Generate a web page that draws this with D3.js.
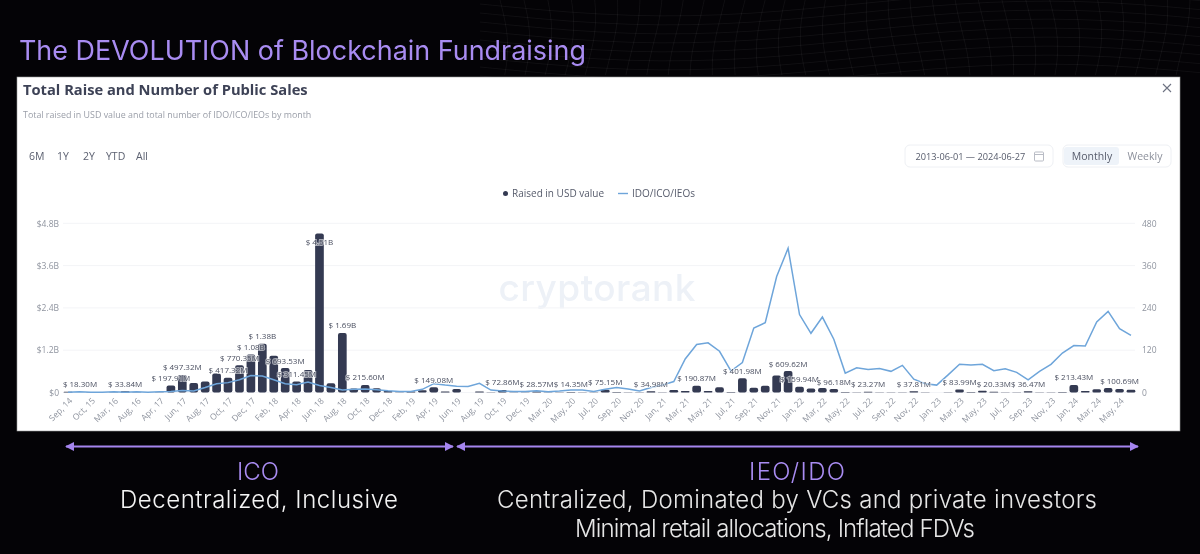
<!DOCTYPE html>
<html>
<head>
<meta charset="utf-8">
<script src="https://cdn.jsdelivr.net/npm/d3@7"></script>
<style>
    body { margin: 0; background: #040306; }
    svg { filter: blur(0.3px); }
    text { font-family: "Open Sans", sans-serif; }
    text.slide { font-family: Inter, sans-serif; }
    .axis path, .axis line { display: none; }
    .axis text { fill: #8f949f; font-size: 8.5px; font-family: "Open Sans", sans-serif; }
</style>
</head>
<body>
<div id="chart"></div>
<script>
// months of the x axis, some of the early ones have no sale so they are skipped
var categories = [
    "Sep, 14", "Jun, 15", "Oct, 15", "Dec, 15", "Mar, 16", "Apr, 16", "Aug, 16", "Oct, 16",
    "Apr, 17", "May, 17", "Jun, 17", "Jul, 17", "Aug, 17", "Sep, 17", "Oct, 17", "Nov, 17", "Dec, 17",
    "Jan, 18", "Feb, 18", "Mar, 18", "Apr, 18", "May, 18", "Jun, 18", "Jul, 18", "Aug, 18", "Sep, 18", "Oct, 18", "Nov, 18", "Dec, 18",
    "Jan, 19", "Feb, 19", "Mar, 19", "Apr, 19", "May, 19", "Jun, 19", "Jul, 19", "Aug, 19", "Sep, 19", "Oct, 19", "Nov, 19", "Dec, 19",
    "Feb, 20", "Mar, 20", "Apr, 20", "May, 20", "Jun, 20", "Jul, 20", "Aug, 20", "Sep, 20", "Oct, 20", "Nov, 20", "Dec, 20",
    "Jan, 21", "Feb, 21", "Mar, 21", "Apr, 21", "May, 21", "Jun, 21", "Jul, 21", "Aug, 21", "Sep, 21", "Oct, 21", "Nov, 21", "Dec, 21",
    "Jan, 22", "Feb, 22", "Mar, 22", "Apr, 22", "May, 22", "Jun, 22", "Jul, 22", "Aug, 22", "Sep, 22", "Oct, 22", "Nov, 22", "Dec, 22",
    "Jan, 23", "Feb, 23", "Mar, 23", "Apr, 23", "May, 23", "Jun, 23", "Jul, 23", "Aug, 23", "Sep, 23", "Oct, 23", "Nov, 23", "Dec, 23",
    "Jan, 24", "Feb, 24", "Mar, 24", "Apr, 24", "May, 24", "Jun, 24"
];

// raised in USD value, millions
var raised = [
    18.30, 3, 5, 3, 4, 33.84, 6, 3,
    8, 197.91, 497.32, 270, 310, 540, 417.32, 770.35, 1080,
    1380, 1040, 693.53, 311.45, 640, 4510, 265, 1690, 110, 215.60, 120, 40,
    8, 30, 65, 149.08, 30, 100, 3, 30, 10, 72.86, 5, 8,
    28.57, 6, 5, 14.35, 5, 10, 75.15, 12, 6, 4, 34.98,
    6, 70, 45, 190.87, 45, 150, 12, 401.98, 135, 190, 480, 609.62,
    159.94, 110, 130, 96.18, 12, 6, 23.27, 5, 4, 6, 37.81, 6,
    3, 4, 83.99, 12, 50, 20.33, 5, 6, 36.47, 6, 5, 12,
    213.43, 45, 90, 130, 100.69, 75
];

// number of IDO/ICO/IEOs
var sales = [
    1, 2, 1, 1, 2, 1, 2, 1,
    2, 3, 6, 4, 14, 25, 28, 36, 48,
    47, 36, 25, 22, 30, 20, 14, 7, 9, 10, 8, 5,
    3, 3, 9, 25, 21, 18, 17, 26, 7, 4, 3, 3,
    5, 2, 4, 7, 7, 3, 9, 14, 10, 4, 14,
    21, 31, 95, 136, 141, 117, 61, 85, 183, 198, 329, 409,
    221, 168, 214, 151, 55, 70, 65, 68, 60, 77, 38, 25,
    21, 50, 80, 78, 80, 62, 67, 57, 36, 60, 80, 112,
    133, 132, 200, 230, 181, 162
];

// months that carry a value label on the bars
var labelled = [
    "Sep, 14", "Apr, 16", "May, 17", "Jun, 17", "Oct, 17", "Nov, 17", "Dec, 17", "Jan, 18", "Mar, 18", "Apr, 18",
    "Jun, 18", "Aug, 18", "Oct, 18", "Apr, 19", "Oct, 19", "Feb, 20", "May, 20", "Aug, 20", "Dec, 20",
    "Apr, 21", "Aug, 21", "Dec, 21", "Jan, 22", "Apr, 22", "Jul, 22", "Nov, 22", "Mar, 23", "Jun, 23", "Sep, 23", "Jan, 24", "May, 24"
];

var usdTicks = [0, 1200, 2400, 3600, 4800];
var usdTickLabels = ["$0", "$1.2B", "$2.4B", "$3.6B", "$4.8B"];
var saleTicks = [0, 120, 240, 360, 480];
var rangeButtons = ["6M", "1Y", "2Y", "YTD", "All"];

var width = 1200, height = 554;
var purple = "#a98cf2";

var svg = d3.select("#chart").append("svg")
    .attr("width", width)
    .attr("height", height)
    .style("display", "block");

var defs = svg.append("defs");
defs.append("marker")
    .attr("id", "head")
    .attr("viewBox", "0 0 10 10")
    .attr("refX", 9).attr("refY", 5)
    .attr("markerWidth", 4.5).attr("markerHeight", 4.5)
    .attr("orient", "auto-start-reverse")
    .append("path")
    .attr("d", "M0,0L10,5L0,10z")
    .attr("fill", "#a585ee");

// faint wavy mesh behind the heading, only decoration
var mesh = svg.append("g")
    .attr("fill", "none")
    .attr("stroke", "#ffffff")
    .attr("stroke-opacity", 0.05);
var meshLine = d3.line().curve(d3.curveBasis);
d3.range(9).forEach(function (j) {
    mesh.append("path").attr("d", meshLine(d3.range(480, 1210, 30).map(function (px) {
        return [px, 4 + j * 9 + 12 * Math.sin((px - 480) / 120)];
    })));
});
d3.range(32).forEach(function (i) {
    mesh.append("path").attr("d", meshLine(d3.range(0, 90, 15).map(function (py) {
        return [500 + i * 22 + 8 * Math.sin(py / 30 + i / 4), py];
    })));
});

// slide heading
svg.append("text")
    .attr("class", "slide")
    .attr("x", 19).attr("y", 60)
    .attr("textLength", 567)
    .attr("font-size", 26.9)
    .attr("fill", purple)
    .text("The DEVOLUTION of Blockchain Fundraising");

// white card
svg.append("rect")
    .attr("x", 17).attr("y", 77)
    .attr("width", 1163).attr("height", 354)
    .attr("fill", "#fff")
    .attr("stroke", "#9a9a9a")
    .attr("stroke-width", 0.6);

svg.append("text")
    .attr("x", 23).attr("y", 95)
    .attr("font-size", 14.7)
    .attr("font-weight", 700)
    .attr("fill", "#3d4256")
    .text("Total Raise and Number of Public Sales");

svg.append("text")
    .attr("x", 23).attr("y", 118)
    .attr("font-size", 8.9)
    .attr("fill", "#9a9ea8")
    .text("Total raised in USD value and total number of IDO/ICO/IEOs by month");

// range buttons
svg.selectAll(".range")
    .data(rangeButtons)
    .enter().append("text")
    .attr("class", "range")
    .attr("x", function (d, i) { return [29, 57, 83, 106, 136][i]; })
    .attr("y", 160)
    .attr("font-size", 10.5)
    .attr("fill", "#5b6070")
    .text(function (d) { return d; });

// date picker
svg.append("rect")
    .attr("x", 905).attr("y", 145).attr("width", 148).attr("height", 22).attr("rx", 5)
    .attr("fill", "#fff").attr("stroke", "#eef0f4");
svg.append("text")
    .attr("x", 915.5).attr("y", 159.5)
    .attr("font-size", 9.2).attr("fill", "#565b6b")
    .text("2013-06-01  —  2024-06-27");
svg.append("rect")
    .attr("x", 1034.5).attr("y", 152).attr("width", 9).attr("height", 9).attr("rx", 1)
    .attr("fill", "none").attr("stroke", "#b9bcc5");
svg.append("line")
    .attr("x1", 1034.5).attr("x2", 1043.5).attr("y1", 154.5).attr("y2", 154.5)
    .attr("stroke", "#b9bcc5");

// monthly / weekly switch
svg.append("rect")
    .attr("x", 1063).attr("y", 145).attr("width", 108).attr("height", 22).attr("rx", 5)
    .attr("fill", "#fff").attr("stroke", "#eef0f4");
svg.append("rect")
    .attr("x", 1064).attr("y", 147).attr("width", 55).attr("height", 18).attr("rx", 3)
    .attr("fill", "#eef3f9");
svg.append("text")
    .attr("x", 1092).attr("y", 160).attr("text-anchor", "middle")
    .attr("font-size", 10.5).attr("fill", "#565b6b").text("Monthly");
svg.append("text")
    .attr("x", 1145).attr("y", 160).attr("text-anchor", "middle")
    .attr("font-size", 10.5).attr("fill", "#8d919c").text("Weekly");

// close cross
svg.append("path")
    .attr("d", "M1163,84L1171,92M1171,84L1163,92")
    .attr("stroke", "#6d7282").attr("stroke-width", 1.1);

// legend
svg.append("circle")
    .attr("cx", 505.5).attr("cy", 193.5).attr("r", 2.5)
    .attr("fill", "#343a52");
svg.append("text")
    .attr("x", 512).attr("y", 197)
    .attr("font-size", 10).attr("fill", "#565b6b")
    .text("Raised in USD value");
svg.append("line")
    .attr("x1", 618).attr("x2", 628).attr("y1", 193.5).attr("y2", 193.5)
    .attr("stroke", "#6ea5da").attr("stroke-width", 1.4);
svg.append("text")
    .attr("x", 632).attr("y", 197)
    .attr("font-size", 10).attr("fill", "#565b6b")
    .text("IDO/ICO/IEOs");

// watermark
svg.append("text")
    .attr("class", "slide")
    .attr("x", 597).attr("y", 301)
    .attr("text-anchor", "middle")
    .attr("font-size", 37)
    .attr("font-weight", 500)
    .attr("textLength", 197)
    .attr("fill", "#edf1f7")
    .text("cryptorank");

// set the ranges
var x = d3.scaleBand()
    .domain(categories)
    .range([62.3, 1136.7])
    .paddingInner(0.24)
    .paddingOuter(0.12);
var yUsd = d3.scaleLinear().domain([0, 4800]).range([392.5, 223.3]);
var ySales = d3.scaleLinear().domain([0, 480]).range([392.5, 223.3]);

// gridlines
svg.selectAll(".grid")
    .data(usdTicks)
    .enter().append("line")
    .attr("class", "grid")
    .attr("x1", 63).attr("x2", 1135)
    .attr("y1", function (d) { return yUsd(d); })
    .attr("y2", function (d) { return yUsd(d); })
    .attr("stroke", "#f3f4f7");

// add the axes
svg.append("g")
    .attr("class", "axis")
    .attr("transform", "translate(61,0)")
    .call(d3.axisLeft(yUsd).tickValues(usdTicks).tickSize(0).tickPadding(2)
        .tickFormat(function (d, i) { return usdTickLabels[i]; }));

svg.append("g")
    .attr("class", "axis")
    .attr("transform", "translate(1140,0)")
    .call(d3.axisRight(ySales).tickValues(saleTicks).tickSize(0).tickPadding(2));

svg.append("g")
    .attr("class", "axis")
    .attr("transform", "translate(0,392.5)")
    .call(d3.axisBottom(x)
        .tickValues(categories.filter(function (d, i) { return i % 2 == 0; }))
        .tickSize(0))
    .selectAll("text")
    .attr("text-anchor", "end")
    .attr("transform", "translate(3,7) rotate(-45)")
    .attr("dy", "0.32em")
    .attr("y", 0);

// append the rectangles for the bar chart
svg.selectAll(".bar")
    .data(categories)
    .enter().append("rect")
    .attr("class", "bar")
    .attr("x", function (d) { return x(d); })
    .attr("width", x.bandwidth())
    .attr("y", function (d, i) { return yUsd(raised[i]); })
    .attr("height", function (d, i) { return yUsd(0) - yUsd(raised[i]); })
    .attr("rx", function (d, i) { return Math.min(2, (yUsd(0) - yUsd(raised[i])) / 2); })
    .attr("fill", "#343a52");

// the count line
var valueline = d3.line()
    .x(function (d) { return x(d) + x.bandwidth() / 2; })
    .y(function (d) { return ySales(sales[categories.indexOf(d)]); });

svg.append("path")
    .datum(categories)
    .attr("d", valueline)
    .attr("fill", "none")
    .attr("stroke", "#6ea5da")
    .attr("stroke-width", 1.5);

// value labels, the one that would leave the plot goes inside the bar
function moneyLabel(v) {
    return v >= 1000 ? "$ " + (v / 1000).toFixed(2) + "B" : "$ " + v.toFixed(2) + "M";
}

svg.selectAll(".label")
    .data(labelled)
    .enter().append("text")
    .attr("class", "label")
    .attr("x", function (d) { return Math.max(80, x(d) + x.bandwidth() / 2); })
    .attr("y", function (d) {
        var top = yUsd(raised[categories.indexOf(d)]);
        return top < 235 ? top + 11 : top - 4.5;
    })
    .attr("text-anchor", "middle")
    .attr("font-size", 8)
    .attr("fill", "#4a4f60")
    .attr("stroke", "rgba(255,255,255,0.55)")
    .attr("stroke-width", 2)
    .attr("paint-order", "stroke")
    .text(function (d) { return moneyLabel(raised[categories.indexOf(d)]); });

// period arrows under the card
svg.append("line")
    .attr("x1", 66).attr("x2", 453).attr("y1", 446.5).attr("y2", 446.5)
    .attr("stroke", "#a585ee").attr("stroke-width", 2)
    .attr("marker-start", "url(#head)").attr("marker-end", "url(#head)");
svg.append("line")
    .attr("x1", 457).attr("x2", 1138).attr("y1", 446.5).attr("y2", 446.5)
    .attr("stroke", "#a585ee").attr("stroke-width", 2)
    .attr("marker-start", "url(#head)").attr("marker-end", "url(#head)");

// captions
function caption(cx, y, size, len, color, txt) {
    svg.append("text")
        .attr("class", "slide")
        .attr("x", cx).attr("y", y)
        .attr("text-anchor", "middle")
        .attr("font-size", size)
        .attr("textLength", len)
        .attr("font-weight", 300)
        .attr("fill", color)
        .text(txt);
}
caption(258, 480, 24, 42, purple, "ICO");
caption(259, 508, 24, 278, "#f4f4f4", "Decentralized, Inclusive");
caption(797, 480, 24, 96, purple, "IEO/IDO");
caption(797, 508, 24, 600, "#e6e6e6", "Centralized, Dominated by VCs and private investors");
caption(775, 537, 24, 400, "#e6e6e6", "Minimal retail allocations, Inflated FDVs");
</script>
</body>
</html>
